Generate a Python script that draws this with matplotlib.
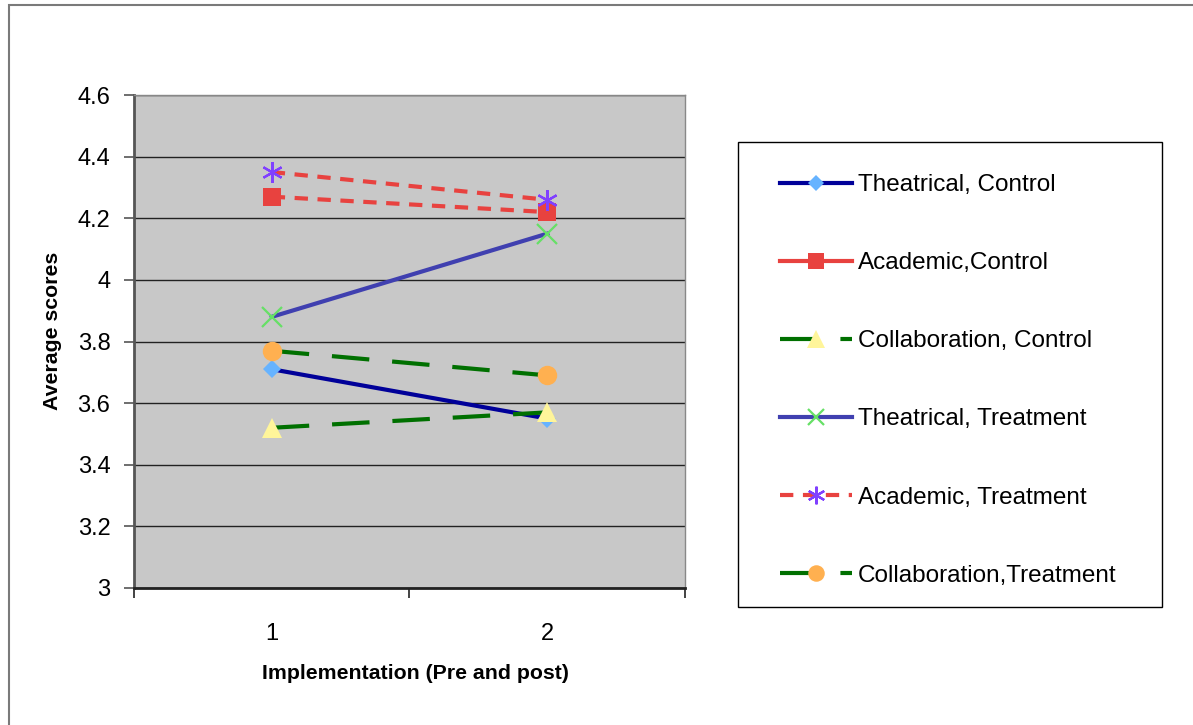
import matplotlib
matplotlib.use('Agg')
import matplotlib.pyplot as plt
from matplotlib.lines import Line2D
from matplotlib.patches import Rectangle

plt.rcParams['font.family'] = ['Liberation Sans', 'DejaVu Sans']

# data
phases = [1, 2]
theatrical_control = [3.71, 3.55]
academic_control = [4.27, 4.22]
collab_control = [3.52, 3.57]
theatrical_treat = [3.88, 4.15]
academic_treat = [4.35, 4.26]
collab_treat = [3.77, 3.69]
labels = ['Theatrical, Control', 'Academic,Control', 'Collaboration, Control',
          'Theatrical, Treatment', 'Academic, Treatment', 'Collaboration,Treatment']
yticks = [3, 3.2, 3.4, 3.6, 3.8, 4, 4.2, 4.4, 4.6]
ytick_labels = ['3', '3.2', '3.4', '3.6', '3.8', '4', '4.2', '4.4', '4.6']

# (line colour, linestyle, marker, marker size, marker colour)
short_dash = (0, (3.2, 2.3))
long_dash = (0, (9.0, 5.5))
styles = [
    ('#000099', '-', 'D', 9, '#66B3FF'),
    ('#E8423F', short_dash, 's', 13, '#E8423F'),
    ('#007000', long_dash, '^', 15, '#FFF59A'),
    ('#4040B0', '-', 'x', 14, '#66E066'),
    ('#E8423F', short_dash, (6, 2, 0), 15, '#8040FF'),
    ('#007000', long_dash, 'o', 14, '#FFB050'),
]
series = [theatrical_control, academic_control, collab_control,
          theatrical_treat, academic_treat, collab_treat]

fig = plt.figure(figsize=(11.93, 7.25), dpi=100)
fig.patches.append(Rectangle((9 / 1193, -0.1), 1.2, 1 - 5 / 725 + 0.1,
                             transform=fig.transFigure, fill=False,
                             edgecolor='#7a7a7a', linewidth=1.5))
ax = fig.add_axes([134 / 1193, 1 - 588 / 725, 551 / 1193, 493 / 725])
ax.set_facecolor('#C8C8C8')

for vals, (lc, ls, mk, ms, mc) in zip(series, styles):
    mew = 1.6 if mk in ('x', (6, 2, 0)) else 0
    ax.plot(phases, vals, color=lc, linestyle=ls, linewidth=3.0,
            marker=mk, markersize=ms, markerfacecolor=mc,
            markeredgecolor=mc, markeredgewidth=mew, zorder=3)

ax.set_xlim(0.5, 2.5)
ax.set_ylim(3, 4.6)
ax.set_yticks(yticks)
ax.set_yticklabels(ytick_labels)
ax.yaxis.grid(True, color='#222222', linewidth=1.0)
ax.set_axisbelow(True)
ax.set_xticks([0.5, 1.5, 2.5])
ax.set_xticklabels([])
ax.set_xticks(phases, minor=True)
ax.set_xticklabels(['1', '2'], minor=True)
ax.tick_params(axis='x', which='major', direction='out', length=7, width=1.2, color='#222222')
ax.tick_params(axis='x', which='minor', length=0, pad=25, labelsize=17)
ax.tick_params(axis='y', direction='out', length=7, width=1.2, color='#555555',
               labelsize=17, pad=10)
for s in ['top', 'right']:
    ax.spines[s].set_color('#888888')
    ax.spines[s].set_linewidth(1.0)
ax.spines['left'].set_color('#555555')
ax.spines['left'].set_linewidth(2)
ax.spines['bottom'].set_color('#222222')
ax.spines['bottom'].set_linewidth(2)

ax.set_xlabel('Implementation (Pre and post)', fontsize=15.3, fontweight='bold', labelpad=16)
ax.set_ylabel('Average scores', fontsize=15.3, fontweight='bold')
ax.yaxis.set_label_coords(-0.131, 0.521)
ax.xaxis.set_label_coords(0.51, -0.155)

handles = []
for i, (lc, ls, mk, ms, mc) in enumerate(styles):
    lstyle = '-' if i == 1 else ls
    mew = 1.6 if mk in ('x', (6, 2, 0)) else 0
    handles.append(Line2D([], [], color=lc, linestyle=lstyle, linewidth=3.0,
                          marker=mk, markersize=ms * 0.85, markerfacecolor=mc,
                          markeredgecolor=mc, markeredgewidth=mew))

# legend frame drawn separately so the padding can differ per side
fig.patches.append(Rectangle((738 / 1193, 1 - 607 / 725), 424 / 1193, 465 / 725,
                             transform=fig.transFigure, fill=False,
                             edgecolor='black', linewidth=1.0))
fig.legend(handles, labels, loc='upper left',
           bbox_to_anchor=(780 / 1193, 1 - 174 / 725),
           fontsize=17.5, frameon=False,
           handlelength=2.95, handletextpad=0.25, labelspacing=2.31,
           borderpad=0, borderaxespad=0)

fig.savefig('out.png', dpi=100)
